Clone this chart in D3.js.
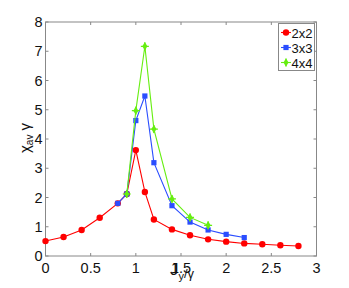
<!DOCTYPE html>
<html>
<head>
<meta charset="utf-8">
<script src="https://cdn.jsdelivr.net/npm/d3@7"></script>
<style>
    body { margin: 0; background: #fff; }
    svg { font-family: "Liberation Sans", Arial, sans-serif; }
</style>
</head>
<body>
<svg width="349" height="288"></svg>
<script>
// Chart data
var redX = [0, 0.2, 0.4, 0.6, 0.8, 0.9, 1.0, 1.1, 1.2, 1.4, 1.6, 1.8, 2.0, 2.2, 2.4, 2.6, 2.8];
var redY = [0.51, 0.65, 0.89, 1.31, 1.80, 2.12, 3.62, 2.19, 1.25, 0.91, 0.71, 0.57, 0.49, 0.43, 0.40, 0.37, 0.34];
var blueX = [0.8, 0.9, 1.0, 1.1, 1.2, 1.4, 1.6, 1.8, 2.0, 2.2];
var blueY = [1.80, 2.12, 4.63, 5.47, 3.19, 1.72, 1.16, 0.89, 0.74, 0.63];
var greenX = [0.9, 1.0, 1.1, 1.2, 1.4, 1.6, 1.8];
var greenY = [2.12, 4.97, 7.17, 4.34, 1.95, 1.32, 1.05];
var seriesNames = ["2x2", "3x3", "4x4"];
var xTicks = [0, 0.5, 1, 1.5, 2, 2.5, 3];
var yTicks = [0, 1, 2, 3, 4, 5, 6, 7, 8];

var colors = ["#ff0000", "#2a4dff", "#66ee11"];
var svg = d3.select("svg");
var plotLeft = 45.5, plotRight = 316.5, plotTop = 22, plotBottom = 256;

var x = d3.scaleLinear().domain([0, 3]).range([plotLeft, plotRight]);
var y = d3.scaleLinear().domain([0, 8]).range([plotBottom, plotTop]);

// Axes box and ticks
var axisColor = "#888";
svg.append("rect")
    .attr("x", plotLeft).attr("y", plotTop)
    .attr("width", plotRight - plotLeft).attr("height", plotBottom - plotTop)
    .attr("fill", "none").attr("stroke", axisColor).attr("stroke-width", 1);

var tickLen = 3;
xTicks.forEach(function (t) {
    svg.append("line").attr("x1", x(t)).attr("x2", x(t))
        .attr("y1", plotBottom).attr("y2", plotBottom - tickLen).attr("stroke", axisColor);
    svg.append("line").attr("x1", x(t)).attr("x2", x(t))
        .attr("y1", plotTop).attr("y2", plotTop + tickLen).attr("stroke", axisColor);
    svg.append("text").attr("x", x(t)).attr("y", plotBottom + 17)
        .attr("text-anchor", "middle").attr("font-size", "14.5px").attr("fill", "#111")
        .text(t);
});
yTicks.forEach(function (t) {
    svg.append("line").attr("x1", plotLeft).attr("x2", plotLeft + tickLen)
        .attr("y1", y(t)).attr("y2", y(t)).attr("stroke", axisColor);
    svg.append("line").attr("x1", plotRight).attr("x2", plotRight - tickLen)
        .attr("y1", y(t)).attr("y2", y(t)).attr("stroke", axisColor);
    svg.append("text").attr("x", plotLeft - 3).attr("y", y(t) + 5)
        .attr("text-anchor", "end").attr("font-size", "14.5px").attr("fill", "#111")
        .text(t);
});

// Markers
function drawMarker(g, kind, cx, cy, color) {
    if (kind === 0) {
        g.append("circle").attr("cx", cx).attr("cy", cy).attr("r", 3.2).attr("fill", color);
    } else if (kind === 1) {
        g.append("rect").attr("x", cx - 2.6).attr("y", cy - 2.6)
            .attr("width", 5.2).attr("height", 5.2).attr("fill", color);
    } else {
        g.append("path").attr("transform", "translate(" + cx + "," + cy + ")")
            .attr("d", d3.symbol().type(d3.symbolDiamond).size(22)())
            .attr("fill", color);
        g.append("path").attr("transform", "translate(" + cx + "," + cy + ")")
            .attr("d", "M-4,0L4,0M0,-4L0,4")
            .attr("stroke", color).attr("stroke-width", 1.2);
    }
}

var series = [
    { xs: redX, ys: redY },
    { xs: blueX, ys: blueY },
    { xs: greenX, ys: greenY }
];
var line = d3.line().x(function (d) { return x(d[0]); }).y(function (d) { return y(d[1]); });

series.forEach(function (s, i) {
    var pts = s.xs.map(function (v, j) { return [v, s.ys[j]]; });
    var g = svg.append("g");
    g.append("path").datum(pts).attr("d", line)
        .attr("fill", "none").attr("stroke", colors[i]).attr("stroke-width", 1.1);
    pts.forEach(function (p) { drawMarker(g, i, x(p[0]), y(p[1]), colors[i]); });
});

// Legend
var lg = svg.append("g");
lg.append("rect").attr("x", 278.5).attr("y", 23.5).attr("width", 36).attr("height", 47)
    .attr("fill", "#fff").attr("stroke", axisColor);
seriesNames.forEach(function (name, i) {
    var ly = 32.5 + i * 15;
    lg.append("line").attr("x1", 281).attr("x2", 291).attr("y1", ly).attr("y2", ly)
        .attr("stroke", colors[i]).attr("stroke-width", 1.1);
    drawMarker(lg, i, 286, ly, colors[i]);
    lg.append("text").attr("x", 291.5).attr("y", ly + 5)
        .attr("font-size", "13px").attr("fill", "#111").text(name);
});

// Axis labels
var yl = svg.append("text")
    .attr("transform", "translate(30,138) rotate(-90)")
    .attr("text-anchor", "middle").attr("font-size", "15px").attr("fill", "#111");
yl.append("tspan").text("χ");
yl.append("tspan").attr("font-size", "10px").attr("dy", 3).text("av");
yl.append("tspan").attr("dy", -3).text(" γ");

var xl = svg.append("text")
    .attr("x", 170).attr("y", 275)
    .attr("font-size", "17px").attr("fill", "#111");
xl.append("tspan").text("J");
xl.append("tspan").attr("font-size", "11px").attr("dy", 5).text("y");
xl.append("tspan").attr("font-size", "13px").attr("dy", -2).text("/γ");
</script>
</body>
</html>
